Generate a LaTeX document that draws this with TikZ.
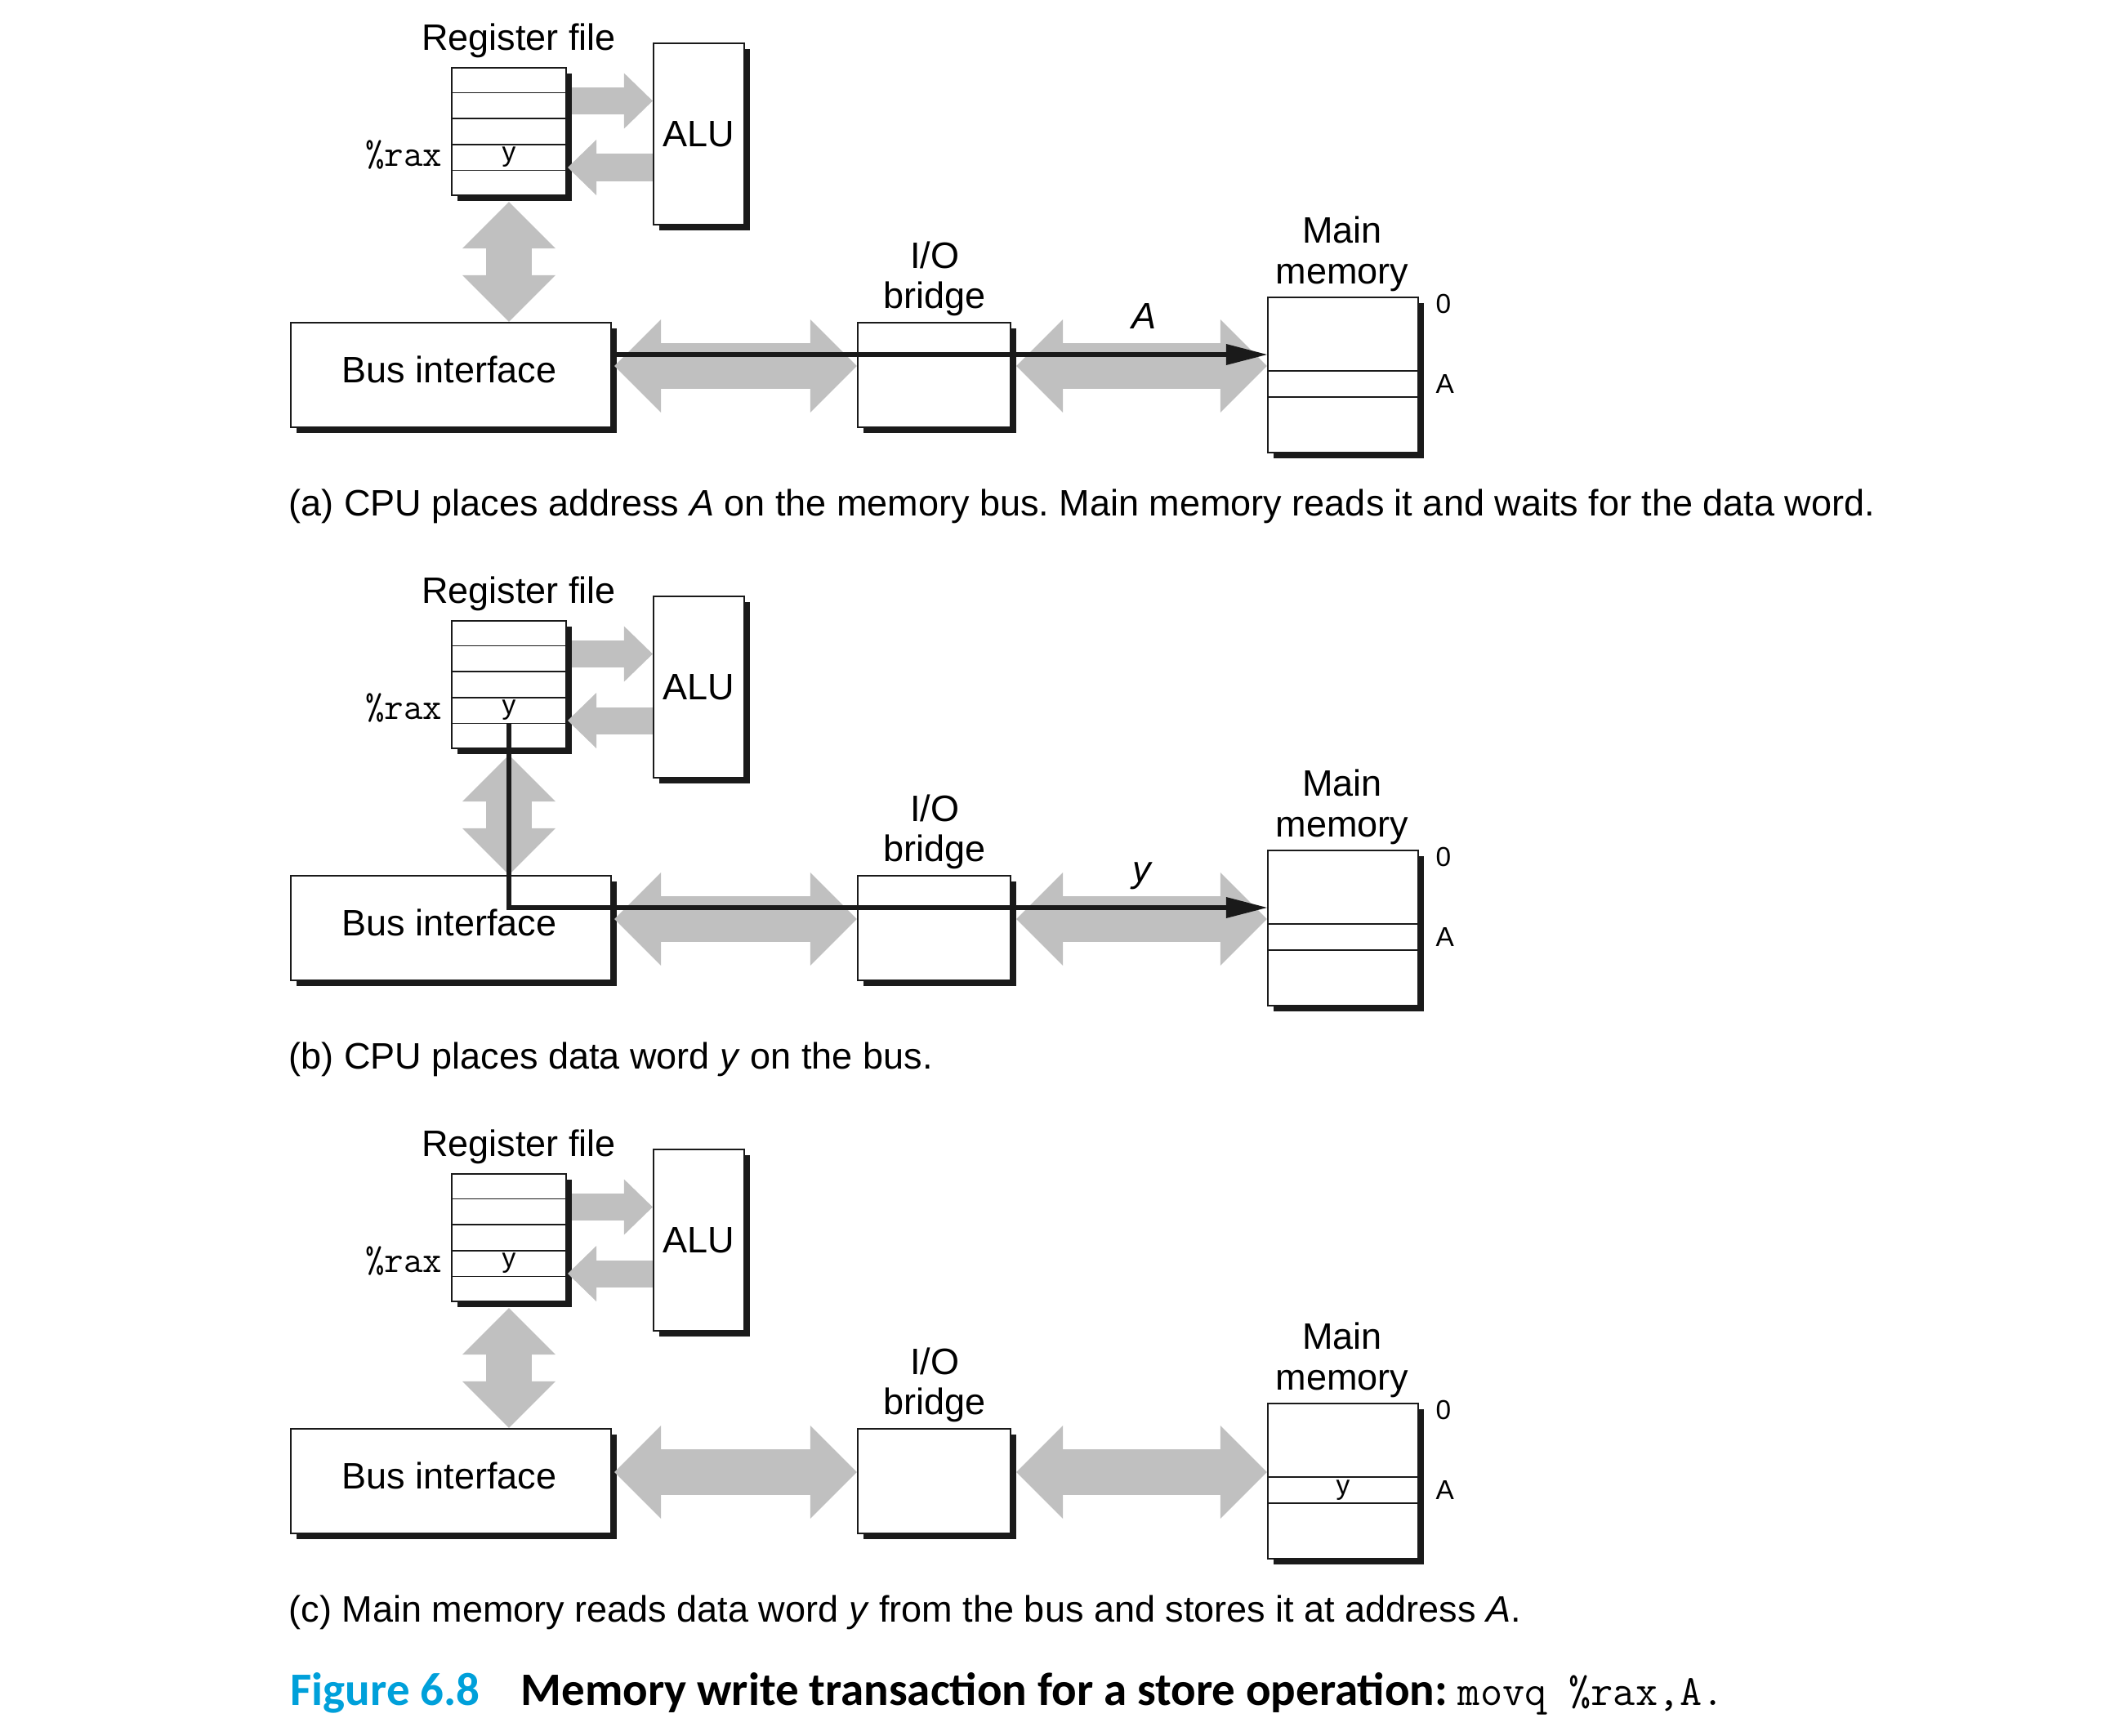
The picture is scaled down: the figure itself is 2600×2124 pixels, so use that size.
\documentclass[tikz,border=0pt]{standalone}
\usepackage{fontspec}
\setmainfont{Liberation Sans}
\newfontfamily\capfont{Carlito}
\usepackage{tikz}
\usetikzlibrary{arrows.meta,positioning,calc,shadows}
\frenchspacing

\definecolor{busgray}{RGB}{192,192,192}
\definecolor{figblue}{RGB}{0,160,218}
\definecolor{ink}{RGB}{26,26,26}

\begin{document}
\begin{tikzpicture}[
    x=0.01cm, y=-0.01cm,
    hwbox/.style={
        draw=ink,
        fill=white,
        line width=0.6pt,
        inner sep=0pt,
        font=\fontsize{12.8}{15}\selectfont,
        drop shadow={shadow xshift=0.07cm, shadow yshift=-0.07cm, opacity=1, fill=ink}
    },
    rowline/.style={ink, line width=0.5pt},
    txt/.style={font=\fontsize{12.8}{15}\selectfont, inner sep=0pt, anchor=base},
    bustag/.style={txt, font=\fontsize{12.8}{15}\selectfont\itshape},
    smalltxt/.style={font=\fontsize{9.5}{11}\selectfont, inner sep=0pt},
    cell/.style={smalltxt, minimum width=1.4cm, minimum height=0.312cm},
    memrow/.style={draw=ink, line width=0.5pt, inner sep=0pt, minimum width=1.84cm, minimum height=0.32cm},
    regname/.style={font=\fontsize{13}{15}\selectfont\ttfamily, inner sep=0pt, anchor=base east},
    busarrow/.style={busgray, line width=0.56cm,
        {Triangle[length=0.57cm, width=1.14cm, line width=0pt]}-{Triangle[length=0.57cm, width=1.14cm, line width=0pt]}},
    regarrow/.style={busgray, line width=0.33cm,
        -{Triangle[length=0.35cm, width=0.68cm, line width=0pt]}},
    wire/.style={ink, line width=0.065cm,
        -{Triangle[length=0.5cm, width=0.26cm, line width=0pt]}}
]

\useasboundingbox (0,0) rectangle (2600,2124);

% the three panels share the same hardware
\foreach \p/\dy in {a/0, b/677, c/1354} {
\begin{scope}[shift={(0,\dy)}]
    % CPU chip
    \node[hwbox, minimum width=1.4cm, minimum height=1.56cm] (rf\p) at (623,161) {};
    \foreach \k in {1,...,4}
        \draw[rowline] ($(rf\p.north west)!\k/5!(rf\p.south west)$) -- ($(rf\p.north east)!\k/5!(rf\p.south east)$);
    \node[cell] (ry\p) at (623,192.2) {y};
    \node[regname] (rax\p) at (542,203) {\%rax};
    \node[txt] (rflbl\p) at (635,61) {Register file};
    \node[hwbox, minimum width=1.11cm, minimum height=2.22cm] (alu\p) at (855.5,164) {ALU};
    \node[hwbox, minimum width=3.92cm, minimum height=1.28cm] (bus\p) at (552,459) {};
    \node[txt] (bustxt\p) at (550,468) {Bus interface};

    % I/O bridge
    \node[hwbox, minimum width=1.87cm, minimum height=1.28cm] (io\p) at (1143.5,459) {};
    \node[txt] (iolbl\p) at (1144,328) {I/O};
    \node[txt] (iolblb\p) at (1144,377) {bridge};

    % main memory
    \node[hwbox, minimum width=1.84cm, minimum height=1.90cm] (mem\p) at (1644,459) {};
    \node[memrow] (ma\p) at (1644,470) {};
    \node[txt] (memlbl\p) at (1643,297) {Main};
    \node[txt] (memlblb\p) at (1643,347) {memory};
    \node[smalltxt, anchor=west] (adr0\p) at (1757,372) {0};
    \node[smalltxt, anchor=west] (adrA\p) at (1757,470) {A};

    % buses
    \coordinate (up\p) at (700,123.5);
    \coordinate (dn\p) at (695,205);
    \coordinate (lane\p) at (748,434);
    \draw[regarrow] (up\p) -- (up\p -| alu\p.west);
    \draw[regarrow] (dn\p -| alu\p.west) -- (dn\p);
    \draw[busarrow] ([yshift=-0.07cm]rf\p.south) -- (rf\p.south |- bus\p.north);
    \draw[busarrow] ([shift={(0.03cm,0.11cm)}]bus\p.east) -- ([yshift=0.11cm]io\p.west);
    \draw[busarrow] ([shift={(0.06cm,0.11cm)}]io\p.east) -- ([yshift=0.11cm]mem\p.west);
\end{scope}
}

% (a) address on the bus
\draw[wire] (lanea) -- (lanea -| mema.west);
\node[bustag] (addrlbl) at (1400,402) {A};

% (b) data word on the bus
\draw[wire, line join=miter] (ryb.south) |- (laneb -| memb.west);
\node[bustag] (datalbl) at (1398,1079) {y};

% (c) stored word
\node[smalltxt] (storedy) at (mac) {y};

\node[txt, anchor=base west] (capa) at (353,631) {(a) CPU places address \textit{A} on the memory bus. Main memory reads it and waits for the data word.};
\node[txt, anchor=base west] (capb) at (353,1308) {(b) CPU places data word \textit{y} on the bus.};
\node[txt, anchor=base west] (capc) at (353,1985) {(c) Main memory reads data word \textit{y} from the bus and stores it at address \textit{A}.};

\node[anchor=base west, inner sep=0pt, font=\fontsize{16.2}{19}\selectfont\capfont\bfseries] (figcap) at (355,2087)
    {\textcolor{figblue}{Figure 6.8}\hspace{0.5cm}Memory write transaction for a store operation: {\fontsize{15}{18}\selectfont\ttfamily\mdseries movq \%rax,A.}};

\end{tikzpicture}
\end{document}
